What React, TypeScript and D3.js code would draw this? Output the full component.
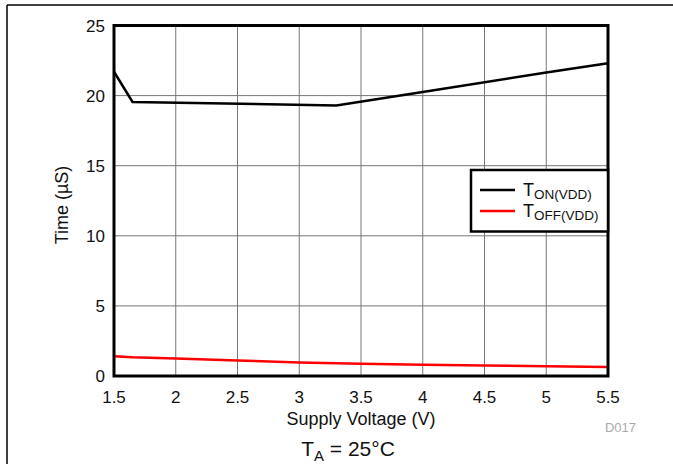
import React from "react";
import * as d3 from "d3";

const voltage = [1.5, 1.65, 3.3, 4, 5, 5.5];
const tOn = [21.7, 19.55, 19.3, 20.25, 21.65, 22.3];
const offVoltage = [1.5, 1.65, 2, 2.5, 3, 3.5, 4, 4.5, 5, 5.5];
const tOff = [1.4, 1.33, 1.25, 1.1, 0.97, 0.87, 0.8, 0.75, 0.69, 0.64];
const xTicks = [1.5, 2, 2.5, 3, 3.5, 4, 4.5, 5, 5.5];
const yTicks = [0, 5, 10, 15, 20, 25];
const xTickLabels = ["1.5", "2", "2.5", "3", "3.5", "4", "4.5", "5", "5.5"];

export default function App() {
  const W = 673, H = 464;
  const x = d3.scaleLinear().domain([1.5, 5.5]).range([114, 608]);
  const y = d3.scaleLinear().domain([0, 25]).range([376, 25.5]);
  const font = "Liberation Sans, Arial, sans-serif";
  const onLine = d3.line<number>().x((_, i) => x(voltage[i])).y((d) => y(d));
  const offLine = d3.line<number>().x((_, i) => x(offVoltage[i])).y((d) => y(d));
  return (
    <svg width={W} height={H} style={{ position: "absolute", left: 0, top: 0 }} fontFamily={font}>
      <rect x={0} y={0} width={W} height={H} fill="white" />
      <line x1={7} y1={5} x2={W} y2={5} stroke="#000" strokeWidth={1.5} />
      <line x1={7} y1={5} x2={7} y2={H} stroke="#000" strokeWidth={1.5} />
      {xTicks.slice(1, -1).map((t) => (
        <line key={"gx" + t} x1={x(t)} x2={x(t)} y1={y(25)} y2={y(0)} stroke="#777" strokeWidth={1} />
      ))}
      {yTicks.slice(1, -1).map((t) => (
        <line key={"gy" + t} x1={x(1.5)} x2={x(5.5)} y1={y(t)} y2={y(t)} stroke="#777" strokeWidth={1} />
      ))}
      <path d={offLine(tOff) || ""} fill="none" stroke="#ff0000" strokeWidth={2.5} />
      <path d={onLine(tOn) || ""} fill="none" stroke="#000" strokeWidth={2.5} />
      <rect x={x(1.5)} y={y(25)} width={x(5.5) - x(1.5)} height={y(0) - y(25)} fill="none" stroke="#000" strokeWidth={3} />
      {yTicks.map((t) => (
        <text key={"yt" + t} x={105} y={y(t) + 6} textAnchor="end" fontSize={17} fill="#111">{t}</text>
      ))}
      {xTicks.map((t, i) => (
        <text key={"xt" + t} x={x(t)} y={403} textAnchor="middle" fontSize={17} fill="#111">{xTickLabels[i]}</text>
      ))}
      <text x={361} y={425} textAnchor="middle" fontSize={18} fill="#111">Supply Voltage (V)</text>
      <text transform={`translate(68,205) rotate(-90)`} textAnchor="middle" fontSize={18} fill="#111">Time (µS)</text>
      <text x={636} y={432} textAnchor="end" fontSize={13} fill="#aaa">D017</text>
      <text x={348} y={456} textAnchor="middle" fontSize={21} fill="#111">
        T<tspan fontSize={15} dy={5}>A</tspan><tspan dy={-5}> = 25°C</tspan>
      </text>
      <rect x={471} y={170} width={137} height={61.5} fill="white" stroke="#000" strokeWidth={2.5} />
      <line x1={480} x2={515} y1={190} y2={190} stroke="#000" strokeWidth={2.5} />
      <line x1={480} x2={515} y1={211} y2={211} stroke="#ff0000" strokeWidth={2.5} />
      <text x={523} y={196} fontSize={18} fill="#111">T<tspan fontSize={13.5} dy={3}>ON(VDD)</tspan></text>
      <text x={523} y={217} fontSize={18} fill="#111">T<tspan fontSize={13.5} dy={3}>OFF(VDD)</tspan></text>
    </svg>
  );
}
